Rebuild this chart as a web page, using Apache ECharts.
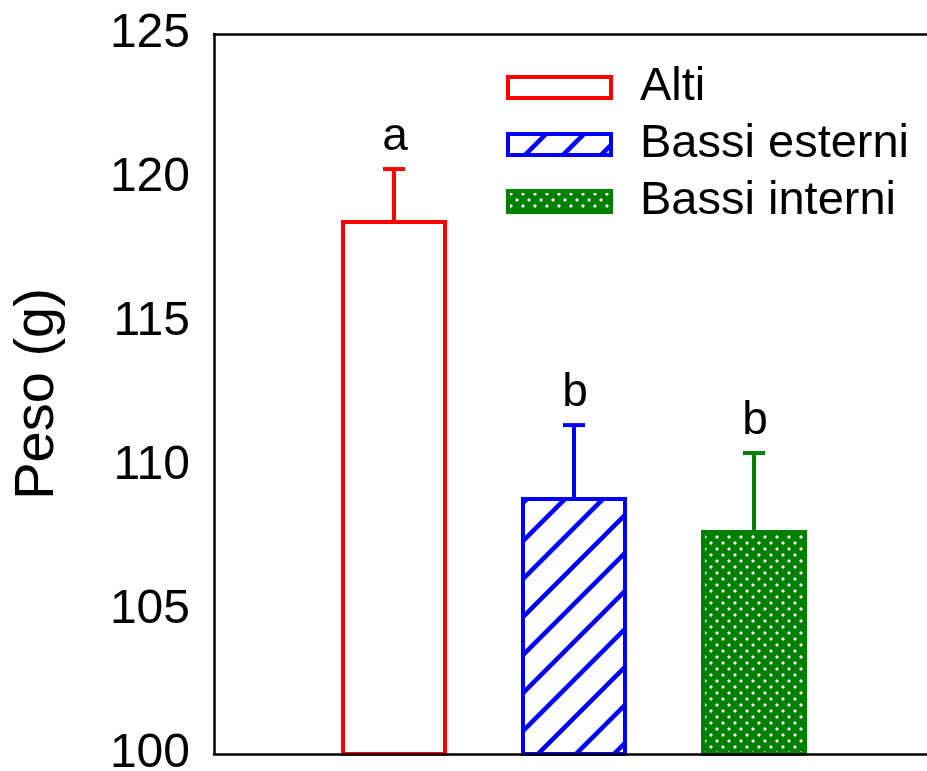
<!DOCTYPE html>
<html><head><meta charset="utf-8">
<script src="https://cdn.jsdelivr.net/npm/echarts@6/dist/echarts.min.js"></script>
<style>html,body{margin:0;padding:0;background:#fff;overflow:hidden}#c{width:927px;height:771px;overflow:hidden}</style>
</head><body><div id="c"></div>
<script>
const categories = ['', 'Alti', 'Bassi esterni', 'Bassi interni', ''];
const seriesNames = ['Alti', 'Bassi esterni', 'Bassi interni'];
const means = [118.54, 108.92, 107.78];
const errors = [1.77, 2.50, 2.67];
const letters = ['a', 'b', 'b'];
const colors = ['#ff0000', '#0000ff', '#008000'];
const yMin = 100, yMax = 125, yStep = 5;

function hatchPattern() {
  const s = 38, c = document.createElement('canvas'); c.width = s; c.height = s;
  const g = c.getContext('2d');
  g.fillStyle = '#fff'; g.fillRect(0, 0, s, s);
  g.strokeStyle = '#0000ff'; g.lineWidth = 4.5;
  g.beginPath();
  g.moveTo(-4, s + 4); g.lineTo(s + 4, -4);
  g.moveTo(-4, 4); g.lineTo(4, -4);
  g.moveTo(s - 4, s + 4); g.lineTo(s + 4, s - 4);
  g.stroke();
  return c;
}
function dotPattern() {
  const s = 12, c = document.createElement('canvas'); c.width = s; c.height = s;
  const g = c.getContext('2d');
  g.fillStyle = '#008000'; g.fillRect(0, 0, s, s);
  g.fillStyle = '#fff';
  [[3, 3], [9, 9]].forEach(([x, y]) => { g.fillRect(x - 1, y - 1.5, 2, 3); g.fillRect(x - 1.5, y - 1, 3, 2); });
  return c;
}
const fills = ['#ffffff', { image: hatchPattern(), repeat: 'repeat' }, { image: dotPattern(), repeat: 'repeat' }];

const FONT = 'Liberation Sans, Arial, sans-serif';
const chart = echarts.init(document.getElementById('c'), null, { renderer: 'canvas', width: 927, height: 771 });

const barSeries = seriesNames.map((name, i) => ({
  name, type: 'bar', xAxisIndex: 0, yAxisIndex: 0,
  barWidth: 106, barGap: '-100%',
  data: categories.map((c, k) => (k === i + 1 ? means[i] : null)),
  itemStyle: { color: fills[i], borderColor: colors[i], borderWidth: 4 },
  emphasis: { disabled: true }, z: 2
}));

const errSeries = {
  type: 'custom', xAxisIndex: 0, yAxisIndex: 0, z: 3, silent: true,
  data: seriesNames.map((n, i) => [i + 1, means[i], errors[i], i]),
  renderItem(params, api) {
    const x = api.value(0), m = api.value(1), e = api.value(2), idx = api.value(3);
    const p0 = api.coord([x, m]), p1 = api.coord([x, m + e]);
    const col = colors[idx];
    return {
      type: 'group', children: [
        { type: 'line', shape: { x1: p0[0], y1: p0[1], x2: p1[0], y2: p1[1] }, style: { stroke: col, lineWidth: 4 } },
        { type: 'line', shape: { x1: p1[0] - 11, y1: p1[1], x2: p1[0] + 11, y2: p1[1] }, style: { stroke: col, lineWidth: 4 } },
        { type: 'text', style: { text: letters[idx], x: p1[0] + 1, y: p1[1] - 9, align: 'center', verticalAlign: 'bottom', fill: '#000', font: '46px ' + FONT } }
      ]
    };
  }
};

chart.setOption({
  animation: false,
  grid: { left: 214, right: -7, top: 34, bottom: 17, containLabel: false, outerBoundsMode: 'none' },
  legend: {
    orient: 'vertical', left: 506, top: 64, padding: 0, itemWidth: 103, itemHeight: 21, itemGap: 10,
    icon: 'rect', data: seriesNames,
    itemStyle: { borderWidth: 4 },
    textStyle: { fontSize: 47, fontFamily: FONT, color: '#000', lineHeight: 46, padding: [0, 0, 0, 24] },
    selectedMode: false
  },
  xAxis: [
    { type: 'category', data: categories, boundaryGap: false, position: 'bottom', z: 10,
      axisLine: { lineStyle: { color: '#000', width: 2.5 } }, axisTick: { show: false }, axisLabel: { show: false }, splitLine: { show: false } },
    { type: 'category', data: categories, boundaryGap: false, position: 'top',
      axisLine: { lineStyle: { color: '#000', width: 2.5 } }, axisTick: { show: false }, axisLabel: { show: false }, splitLine: { show: false } }
  ],
  yAxis: {
    type: 'value', min: yMin, max: yMax, interval: yStep, z: 10,
    name: 'Peso (g)', nameLocation: 'middle', nameRotate: 90, nameGap: 148,
    nameTextStyle: { fontSize: 56, fontFamily: FONT, color: '#000' },
    axisLine: { show: true, lineStyle: { color: '#000', width: 2.5 } },
    axisTick: { show: false }, splitLine: { show: false },
    axisLabel: { fontSize: 48, fontFamily: FONT, color: '#000', margin: 24 }
  },
  series: [...barSeries, errSeries]
});
</script></body></html>
